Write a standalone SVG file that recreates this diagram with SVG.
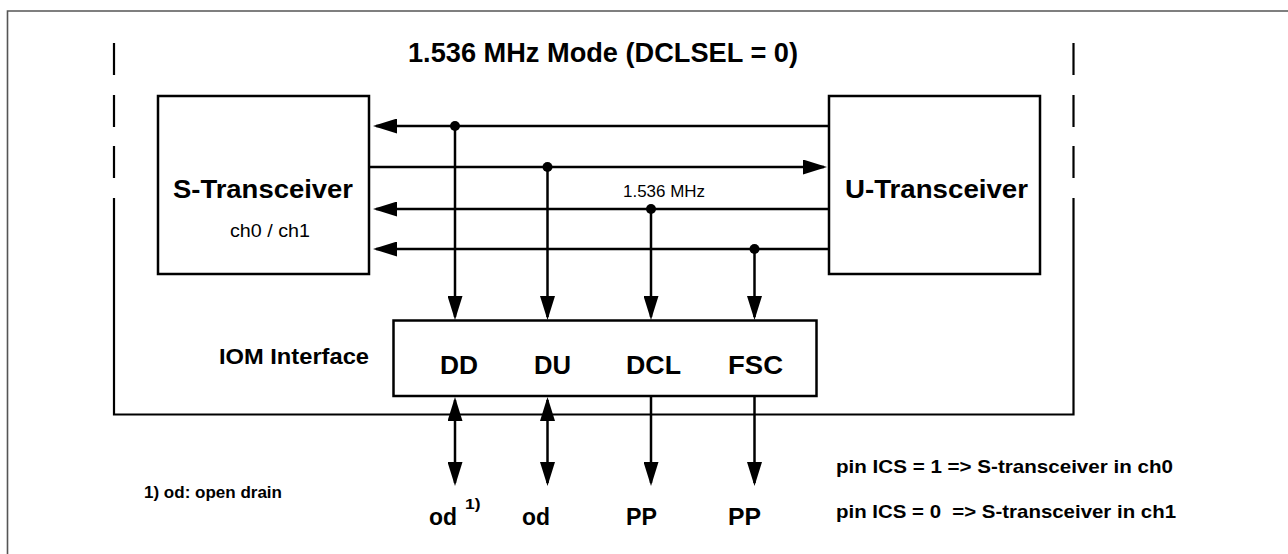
<svg xmlns="http://www.w3.org/2000/svg" width="1288" height="554" viewBox="0 0 1288 554">
  <defs>
    <marker id="ah" viewBox="0 0 24 15" refX="21" refY="7.5" markerWidth="24" markerHeight="15" markerUnits="userSpaceOnUse" orient="auto-start-reverse">
      <path d="M0,0 L24,7.5 L0,15 z" fill="#000"/>
    </marker>
  </defs>
  <style>
    .box { fill: #fff; stroke: #000; stroke-width: 2.5; }
    .wire { fill: none; stroke: #000; stroke-width: 2.5; }
    .edge { fill: none; stroke: #000; stroke-width: 2.2; }
    .dot { fill: #000; }
    text { font-family: "Liberation Sans", Arial, Helvetica, sans-serif; fill: #000; }
    .b { font-weight: bold; }
    .c { text-anchor: middle; }
  </style>
  <rect width="1288" height="554" fill="#fff"/>
  <path d="M7.5 554 V11 H1288" fill="none" stroke="#555" stroke-width="1.6"/>

  <g id="chip-outline">
    <path class="edge" d="M114 43 V75 M114 95 V127 M114 146 V178 M114 198 V414.5 H1073.5 V198 M1073.5 178 V146 M1073.5 127 V95 M1073.5 75 V43"/>
  </g>

  <g id="title">
    <text class="b" x="408" y="62" font-size="27" textLength="390" lengthAdjust="spacingAndGlyphs">1.536 MHz Mode (DCLSEL = 0)</text>
  </g>

  <g id="s-transceiver">
    <rect class="box" x="158" y="96" width="211" height="178"/>
    <text class="b c" x="263" y="198" font-size="26" textLength="180" lengthAdjust="spacingAndGlyphs">S-Transceiver</text>
    <text class="c" x="270" y="237" font-size="19" textLength="80" lengthAdjust="spacingAndGlyphs">ch0 / ch1</text>
  </g>

  <g id="u-transceiver">
    <rect class="box" x="829" y="96" width="211" height="178"/>
    <text class="b c" x="936.5" y="198" font-size="26" textLength="183" lengthAdjust="spacingAndGlyphs">U-Transceiver</text>
  </g>

  <g id="iom-interface">
    <rect class="box" x="393.5" y="320.5" width="423" height="75.5"/>
    <text class="b" x="219" y="364" font-size="22.5" textLength="150" lengthAdjust="spacingAndGlyphs">IOM Interface</text>
    <text class="b" x="440" y="374" font-size="25" textLength="38" lengthAdjust="spacingAndGlyphs">DD</text>
    <text class="b" x="534" y="374" font-size="25" textLength="37" lengthAdjust="spacingAndGlyphs">DU</text>
    <text class="b" x="626" y="374" font-size="25" textLength="55" lengthAdjust="spacingAndGlyphs">DCL</text>
    <text class="b" x="728" y="374" font-size="25" textLength="55" lengthAdjust="spacingAndGlyphs">FSC</text>
  </g>

  <g id="connectors">
    <path class="wire" d="M829 126 H376" marker-end="url(#ah)"/>
    <path class="wire" d="M370 167 H824" marker-end="url(#ah)"/>
    <path class="wire" d="M829 209 H376" marker-end="url(#ah)"/>
    <path class="wire" d="M829 249 H376" marker-end="url(#ah)"/>
    <circle class="dot" cx="455" cy="126" r="5"/>
    <circle class="dot" cx="547.5" cy="167" r="5"/>
    <circle class="dot" cx="651" cy="209" r="5"/>
    <circle class="dot" cx="754.5" cy="249" r="5"/>
    <path class="wire" d="M455 126 V317" marker-end="url(#ah)"/>
    <path class="wire" d="M547.5 167 V317" marker-end="url(#ah)"/>
    <path class="wire" d="M651 209 V317" marker-end="url(#ah)"/>
    <path class="wire" d="M754.5 249 V317" marker-end="url(#ah)"/>
    <path class="wire" d="M455 400 V483" marker-start="url(#ah)" marker-end="url(#ah)"/>
    <path class="wire" d="M547.5 400 V483" marker-start="url(#ah)" marker-end="url(#ah)"/>
    <path class="wire" d="M651 396 V483" marker-end="url(#ah)"/>
    <path class="wire" d="M754.5 396 V483" marker-end="url(#ah)"/>
    <text x="623" y="197" font-size="17" textLength="82" lengthAdjust="spacingAndGlyphs">1.536 MHz</text>
  </g>

  <g id="pin-labels">
    <text class="b" x="429" y="525" font-size="23" textLength="28" lengthAdjust="spacingAndGlyphs">od</text>
    <text class="b" x="465" y="509" font-size="15" textLength="15.5" lengthAdjust="spacingAndGlyphs">1)</text>
    <text class="b" x="522" y="525" font-size="23" textLength="28" lengthAdjust="spacingAndGlyphs">od</text>
    <text class="b" x="626" y="525" font-size="23" textLength="31" lengthAdjust="spacingAndGlyphs">PP</text>
    <text class="b" x="728" y="525" font-size="23" textLength="33" lengthAdjust="spacingAndGlyphs">PP</text>
  </g>

  <g id="notes">
    <text class="b" x="144" y="498" font-size="17" textLength="138" lengthAdjust="spacingAndGlyphs">1) od: open drain</text>
    <text class="b" x="836" y="473" font-size="19" textLength="337" lengthAdjust="spacingAndGlyphs">pin ICS = 1 =&gt; S-transceiver in ch0</text>
    <text class="b" x="836" y="518" font-size="19" textLength="340" lengthAdjust="spacingAndGlyphs" xml:space="preserve">pin ICS = 0  =&gt; S-transceiver in ch1</text>
  </g>
</svg>
